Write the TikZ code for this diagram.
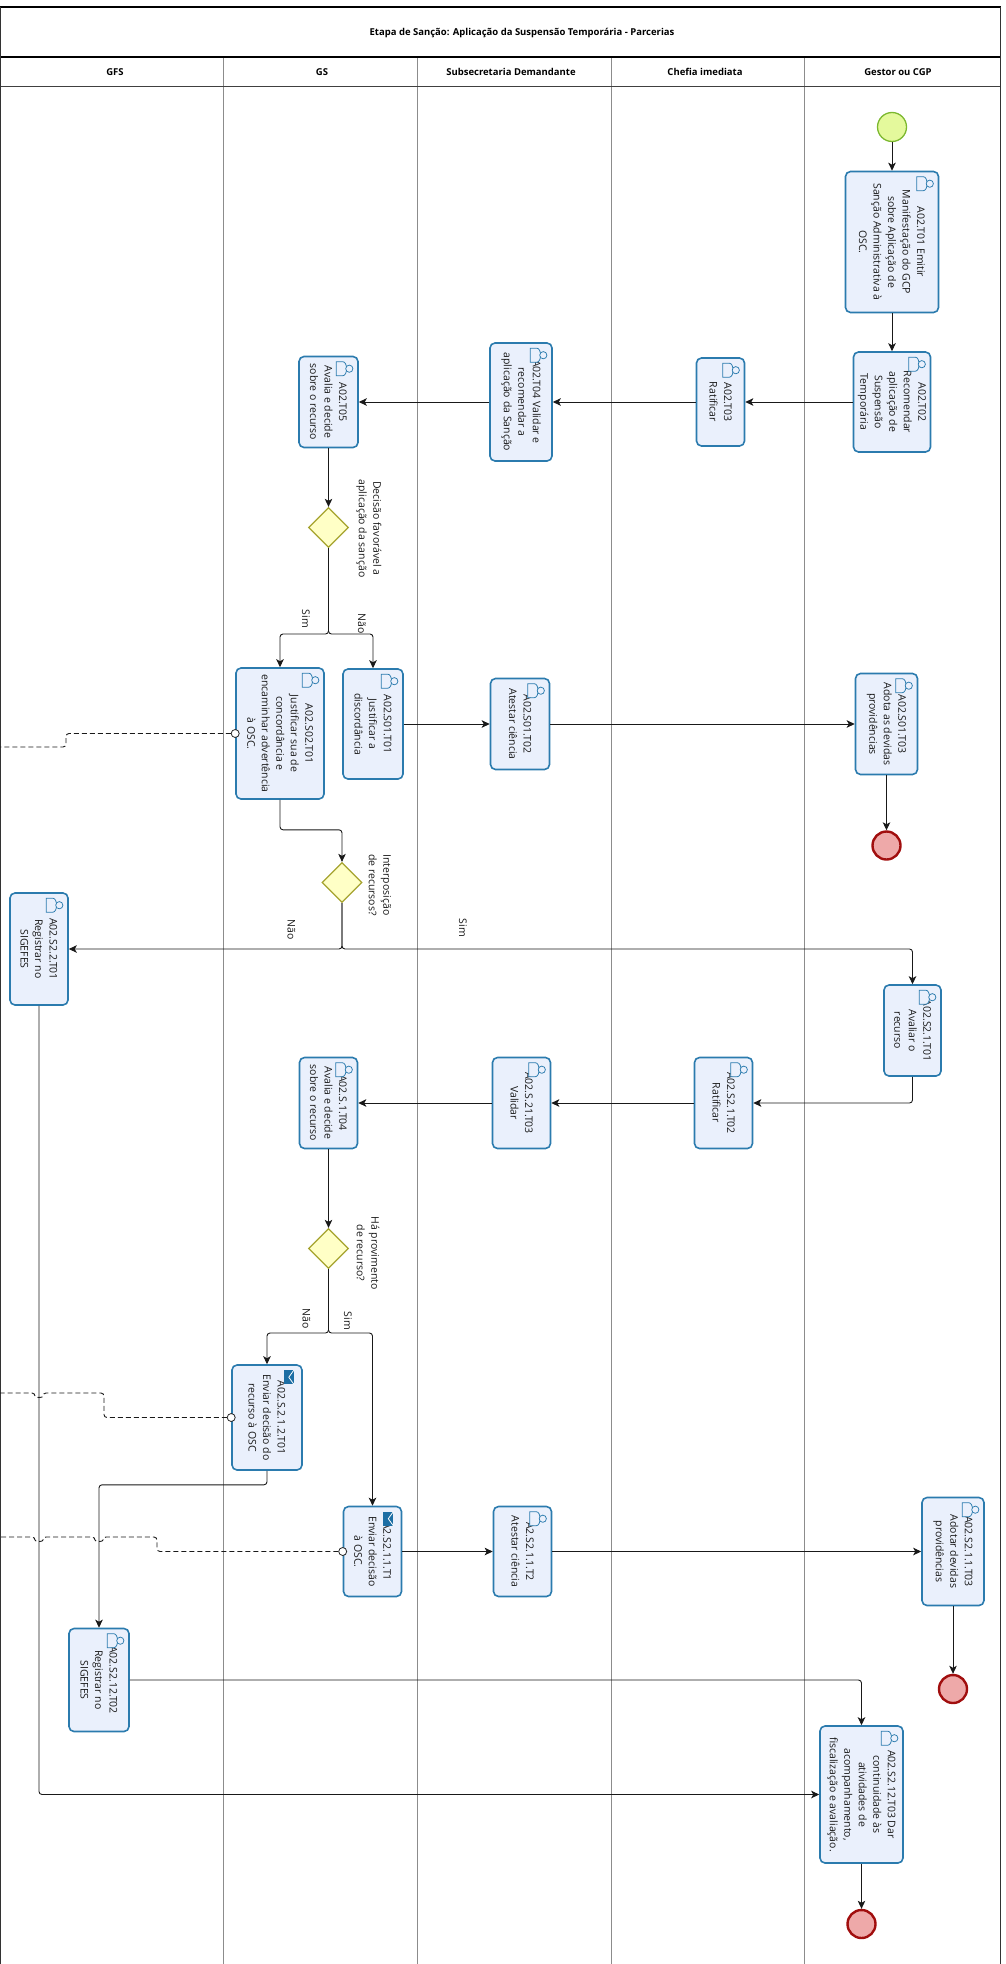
\documentclass[tikz,border=0pt]{standalone}
\usepackage{fontspec}
\setmainfont{Open Sans}
\usetikzlibrary{arrows.meta,shapes.geometric,calc}

\definecolor{taskfill}{HTML}{EAF0FC}
\definecolor{taskdraw}{HTML}{2B7BAE}
\definecolor{gwfill}{HTML}{FFFFC6}
\definecolor{gwdraw}{HTML}{A5A32E}
\definecolor{startfill}{HTML}{E4F99C}
\definecolor{startdraw}{HTML}{7CB82F}
\definecolor{endfill}{HTML}{EEA9A9}
\definecolor{enddraw}{HTML}{A10E0E}
\definecolor{lanegray}{HTML}{8C8C8C}
\definecolor{envblue}{HTML}{1C6EA4}

\tikzset{
  taskbox/.style={draw=taskdraw, fill=taskfill, line width=1.6pt, rounded corners=5pt, inner sep=0pt},
  tasktext/.style={rotate=-90, align=center, font=\fontsize{10.5}{14.5}\selectfont, inner sep=0pt, text=black!90},
  lbl/.style={rotate=-90, align=center, font=\fontsize{10.5}{14.5}\selectfont, inner sep=0pt, text=black!90},
  gateway/.style={diamond, draw=gwdraw, fill=gwfill, line width=1.3pt, minimum width=40pt, minimum height=40pt, inner sep=0pt},
  startev/.style={circle, draw=startdraw, fill=startfill, line width=1.3pt, minimum size=29pt, inner sep=0pt},
  endev/.style={circle, draw=enddraw, fill=endfill, line width=2.4pt, minimum size=28pt, inner sep=0pt},
  flow/.style={draw=black!90, line width=0.9pt, rounded corners=3pt, -{Stealth[length=8pt,width=7.5pt,inset=2pt]}},
  msg/.style={draw=black!90, line width=0.9pt, dash pattern=on 5pt off 3pt, rounded corners=3pt},
  msgcirc/.style={circle, draw=black!85, fill=white, line width=0.8pt, minimum size=8pt, inner sep=0pt},
  lanesep/.style={draw=lanegray, line width=1pt},
  hdr/.style={font=\bfseries\fontsize{9.5}{11}\selectfont, inner sep=0pt},
  usericon/.pic={
    \draw[draw=taskdraw, line width=0.75pt, fill=taskfill] (-8.5,-7) -- (-2,-7) .. controls (3,-7) and (3,7) .. (-2,7) -- (-8.5,7) -- cycle;
    \draw[draw=taskdraw, line width=0.75pt, fill=taskfill] (4.5,0) circle[radius=3.6pt];
  },
  sendicon/.pic={
    \fill[envblue] (-5,-7) rectangle (5,7);
    \draw[white, line width=0.8pt] (5,-7) -- (0,0) -- (5,7);
  },
}

\newcommand\bpmntask[7]{%
  \node[taskbox, minimum width=#4pt, minimum height=#5pt] (#1) at (#2,#3) {};
  \node[tasktext] (#1-t) at (#1.center) {#6};
  \pic at ($(#1.north east)+(-14,13)$) {#7};
}

\begin{document}
\begin{tikzpicture}[x=1pt,y=-1pt]
\useasboundingbox (0,0) rectangle (1005,1964);

% pool and lanes
\draw[lanesep] (223,57) -- (223,1964);
\draw[lanesep] (417,57) -- (417,1964);
\draw[lanesep] (611,57) -- (611,1964);
\draw[lanesep] (804,57) -- (804,1964);
\draw[line width=1pt, black!75] (0,87) -- (1001,87);
\draw[line width=1.2pt] (0,57) -- (1001,57);
\draw[line width=1.6pt] (0,7) -- (1001,7);
\draw[line width=1.2pt, black!80] (0.8,7) -- (0.8,1964);
\draw[line width=1.2pt, black!80] (1000.5,7) -- (1000.5,1964);

\node[hdr] (title) at (522,33) {Etapa de Sanção: Aplicação da Suspensão Temporária - Parcerias};
\node[hdr] (h1) at (115,72) {GFS};
\node[hdr] (h2) at (322,72) {GS};
\node[hdr] (h3) at (511,72) {Subsecretaria Demandante};
\node[hdr] (h4) at (705,72) {Chefia imediata};
\node[hdr] (h5) at (898,72) {Gestor ou CGP};

% tasks
\bpmntask{t01}{892}{242}{93}{141}{A02.T01 Emitir\\Manifestação do GCP\\sobre Aplicação de\\Sanção Administrativa à\\OSC.}{usericon}
\bpmntask{t02}{892}{402}{77}{100}{A02.T02\\Recomendar\\aplicação de\\Suspensão\\Temporária}{usericon}
\bpmntask{t03}{720.5}{402}{48}{88}{A02.T03\\Ratificar}{usericon}
\bpmntask{t04}{521}{402}{62}{118}{A02.T04 Validar e\\recomendar a\\aplicação da Sanção}{usericon}
\bpmntask{t05}{328.5}{402}{59}{91}{A02.T05\\Avalia e decide\\sobre o recurso}{usericon}
\bpmntask{s02t01}{280}{733.5}{88}{131}{A02.S02.T01\\Justificar sua de\\concordância e\\encaminhar advertência\\à OSC.}{usericon}
\bpmntask{s01t01}{373}{724}{60}{110}{A02.S01.T01\\Justificar a\\discordância}{usericon}
\bpmntask{s01t02}{520}{724}{59}{91}{A02.S01.T02\\Atestar ciência}{usericon}
\bpmntask{s01t03}{886.5}{724}{62}{101}{A02.S01.T03\\Adota as devidas\\providências}{usericon}
\bpmntask{s22t01}{39}{949}{58}{112}{A02.S2.2.T01\\Registrar no\\SIGEFES}{usericon}
\bpmntask{s21t01}{912.5}{1030.5}{57}{91}{A02.S2.1.T01\\Avaliar o\\recurso}{usericon}
\bpmntask{s21t02}{723.5}{1103}{58}{91}{A02.S2.1.T02\\Ratificar}{usericon}
\bpmntask{s21t03}{521.5}{1103}{58}{91}{A02.S.21.T03\\Validar}{usericon}
\bpmntask{s1t04}{328.5}{1103}{58}{91}{A02.S.1.T04\\Avalia e decide\\sobre o recurso}{usericon}
\bpmntask{s2121t01}{267}{1417.5}{70}{105}{A02.S.2.1.2.T01\\Enviar decisão do\\recurso à OSC}{sendicon}
\bpmntask{s211t1}{372.5}{1551.5}{58}{90}{A2.S2.1.1.T1\\Enviar decisão\\à OSC.}{sendicon}
\bpmntask{s211t2}{522.5}{1551.5}{58}{90}{A2.S2.1.1.T2\\Atestar ciência}{usericon}
\bpmntask{s211t03}{953}{1551.5}{62}{108}{A02.S2.1.1.T03\\Adotar devidas\\providências}{usericon}
\bpmntask{s212t02}{99}{1680}{60}{103}{A02.S2.12.T02\\Registrar no\\SIGEFES}{usericon}
\bpmntask{s212t03}{861.5}{1794.5}{83}{137}{A02.S2.12.T03 Dar\\continuidade às\\atividades de\\acompanhamento,\\fiscalização e avaliação.}{usericon}

% gateways
\node[gateway] (g1) at (328.5,527.5) {};
\node[gateway] (g2) at (342,882.5) {};
\node[gateway] (g3) at (328.5,1248.5) {};
\node[lbl] (g1l) at (369,528.5) {Decisão favorável a\\aplicação da sanção};
\node[lbl] (g2l) at (380,885) {Interposição\\de recursos?};
\node[lbl] (g3l) at (368,1253) {Há provimento\\de recurso?};
\node[lbl] (g1s) at (306,619) {Sim};
\node[lbl] (g1n) at (362,624) {Não};
\node[lbl] (g2n) at (291.5,930) {Não};
\node[lbl] (g2s) at (463,928) {Sim};
\node[lbl] (g3n) at (306.5,1318.5) {Não};
\node[lbl] (g3s) at (348,1321) {Sim};

% events
\node[startev] (st) at (892,127) {};
\node[endev] (e1) at (886.5,845.5) {};
\node[endev] (e2) at (953,1689) {};
\node[endev] (e3) at (861.5,1924) {};

% sequence flows
\draw[flow] (st) -- (t01);
\draw[flow] (t01) -- (t02);
\draw[flow] (t02) -- (t03);
\draw[flow] (t03) -- (t04);
\draw[flow] (t04) -- (t05);
\draw[flow] (t05) -- (g1);
\coordinate (j1) at (328.5,634);
\draw[flow] (g1.south) -- (j1) -| (s02t01.north);
\draw[flow] (g1.south) -- (j1) -| (s01t01.north);
\draw[flow] (s01t01) -- (s01t02);
\draw[flow] (s01t02) -- (s01t03);
\draw[flow] (s01t03) -- (e1);
\draw[flow] (s02t01.south) -- ++(0,30) -| (g2.north);
\draw[flow] (g2.south) |- (s22t01.east);
\draw[flow] (g2.south) |- (s21t01.north |- s22t01.east) -- (s21t01.north);
\draw[flow] (s21t01.south) |- (s21t02.east);
\draw[flow] (s21t02) -- (s21t03);
\draw[flow] (s21t03) -- (s1t04);
\draw[flow] (s1t04) -- (g3);
\coordinate (j3) at (328.5,1333);
\draw[flow] (g3.south) -- (j3) -| (s2121t01.north);
\draw[flow] (g3.south) -- (j3) -| (s211t1.north);
\draw[flow] (s2121t01.south) -- ++(0,14) -| (s212t02.north);
\draw[flow] (s211t1) -- (s211t2);
\draw[flow] (s211t2) -- (s211t03);
\draw[flow] (s211t03) -- (e2);
\draw[flow] (s212t02.east) -| (s212t03.north);
\draw[flow] (s22t01.south) |- (s212t03.west);
\draw[flow] (s212t03) -- (e3);

% message flows
\node[msgcirc] (m1c) at (s02t01.west) {};
\coordinate (m1e) at (0,747);
\draw[msg] (m1c.west) -- (66,733.5) -- (66,747) -- (m1e);
\node[msgcirc] (m2c) at (s2121t01.west) {};
\coordinate (m2e) at (0,1393);
\draw[msg] (m2c.west) -- (104,1417.5) -- (104,1393) -- (43,1393) .. controls (43,1398) and (35,1398) .. (35,1393) -- (m2e);
\node[msgcirc] (m3c) at (s211t1.west) {};
\coordinate (m3e) at (0,1537);
\draw[msg] (m3c.west) -- (157,1551.5) -- (157,1537) -- (103,1537) .. controls (103,1542) and (95,1542) .. (95,1537) -- (43,1537) .. controls (43,1542) and (35,1542) .. (35,1537) -- (m3e);
\end{tikzpicture}
\end{document}
